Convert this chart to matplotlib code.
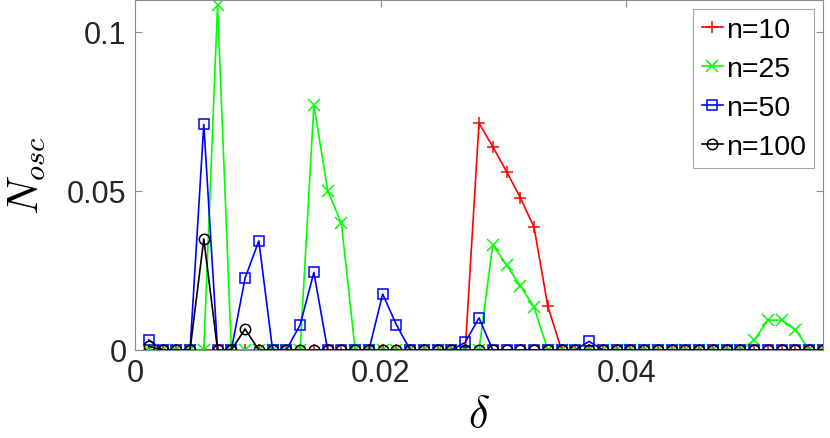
# plot.py
# Oscillation count N_osc versus delta for several n.

import numpy as np
import matplotlib
matplotlib.use("Agg")
import matplotlib.pyplot as plt

# delta grid, 50 points up to 0.056
delta = np.round(np.arange(1, 51) * 0.00112, 5)

# nonzero values only (index k -> k-th delta), all others are zero
n10_vals = {25: 0.0713, 26: 0.0639, 27: 0.0561, 28: 0.0479, 29: 0.0386, 30: 0.0138}
n25_vals = {6: 0.1083, 13: 0.0771, 14: 0.0501, 15: 0.0398,
            26: 0.0331, 27: 0.0267, 28: 0.0202, 29: 0.0134,
            45: 0.0031, 46: 0.0094, 47: 0.0094, 48: 0.0064}
n50_vals = {1: 0.0032, 5: 0.0709, 8: 0.0226, 9: 0.0343, 12: 0.0079, 13: 0.0244,
            18: 0.0176, 19: 0.0079, 24: 0.0024, 25: 0.0101, 33: 0.0027}
n100_vals = {1: 0.0012, 5: 0.0349, 8: 0.0066}

labels = ["n=10", "n=25", "n=50", "n=100"]
colors = ["#ff0000", "#00ff00", "#0000ff", "#000000"]
markers = ["+", "x", "s", "o"]


def to_series(vals):
    y = np.zeros(len(delta))
    for k, v in vals.items():
        y[k - 1] = v
    return y


series = [to_series(v) for v in (n10_vals, n25_vals, n50_vals, n100_vals)]

plt.rcParams["font.family"] = ["Liberation Sans", "DejaVu Sans"]
plt.rcParams["mathtext.fontset"] = "cm"

fig = plt.figure(figsize=(8.3, 4.39), dpi=100)
ax = fig.add_axes([135 / 830, 88 / 439, 688 / 830, 350 / 439])

for y, lab, c, m in zip(series, labels, colors, markers):
    ms = 7.5 if m in ("s", "o") else 8.5
    ax.plot(delta, y, color=c, marker=m, markersize=ms, markerfacecolor="none",
            markeredgewidth=1.1, linewidth=1.2, label=lab)

ax.set_xlim(0, 0.056)
ax.set_ylim(0, 0.11)
ax.set_xticks([0, 0.02, 0.04])
ax.set_xticklabels(["0", "0.02", "0.04"])
ax.set_yticks([0, 0.05, 0.1])
ax.set_yticklabels(["0", "0.05", "0.1"])

for s in ax.spines.values():
    s.set_color("#8c8c8c")
    s.set_linewidth(0.8)
ax.tick_params(direction="in", length=5, width=0.8, color="#8c8c8c",
               top=True, right=True, labelsize=22, labelcolor="#262626", pad=6)

ax.set_xlabel(r"$\delta$", fontsize=32, labelpad=4)
ax.set_ylabel(r"$N_{osc}$", fontsize=31, labelpad=14)

leg = ax.legend(loc="upper right", fontsize=20.5, handlelength=0.75, handletextpad=0.1,
                labelspacing=0.45, borderpad=0.3, borderaxespad=0.3, fancybox=False)
leg.get_frame().set_edgecolor("#8c8c8c")
leg.get_frame().set_linewidth(0.8)

fig.savefig("out.png", dpi=100)
